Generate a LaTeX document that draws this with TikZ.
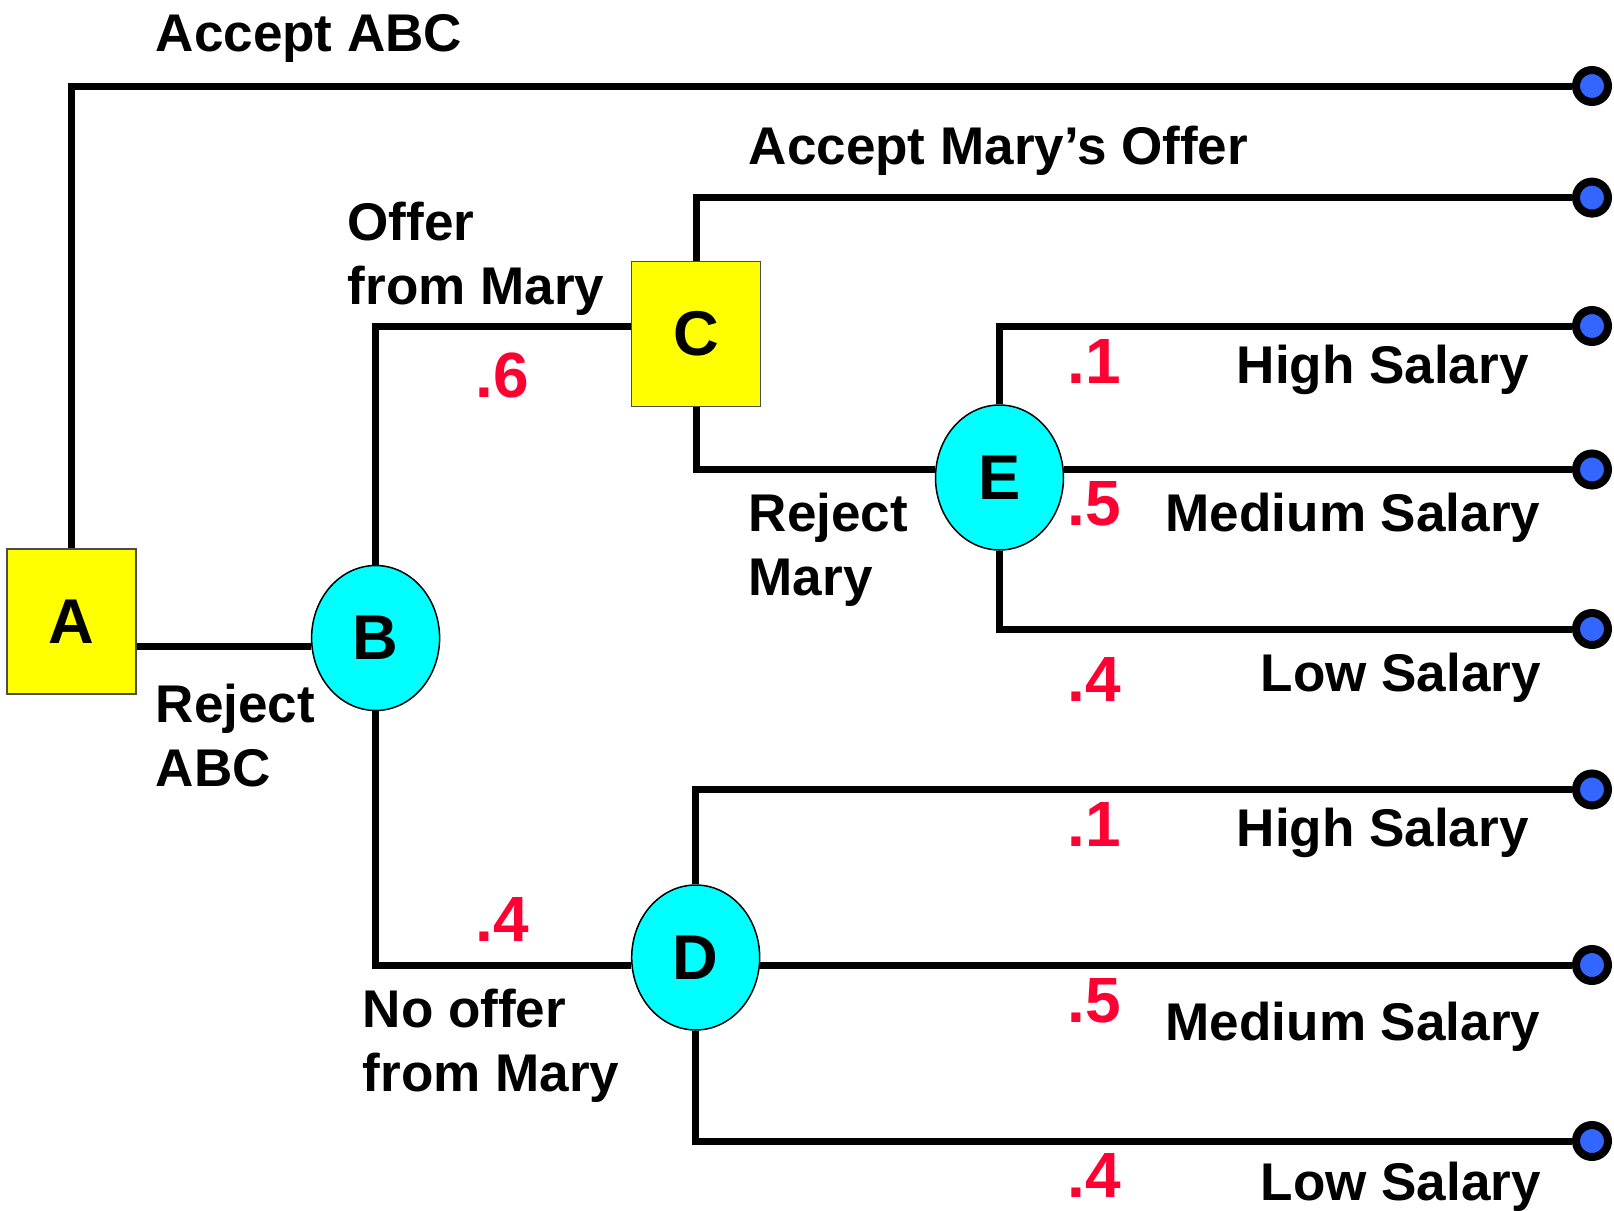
\documentclass[tikz,border=0pt]{standalone}
\usepackage{fontspec}
\setmainfont{Liberation Sans}
\usetikzlibrary{shapes.geometric}

\definecolor{ProbRed}{RGB}{255,0,51}
\definecolor{EndBlue}{RGB}{51,102,255}
\definecolor{BoxYellow}{RGB}{255,255,0}
\definecolor{ChanceCyan}{RGB}{0,255,255}

\begin{document}
\begin{tikzpicture}[x=.1mm,y=-.1mm,
  decision/.style={rectangle,draw=black!70,line width=.15mm,fill=BoxYellow,minimum width=12.9mm,minimum height=14.5mm,inner sep=0,font=\fontsize{18}{20}\selectfont\bfseries},
  chance/.style={ellipse,draw,line width=.15mm,fill=ChanceCyan,minimum width=12.8mm,minimum height=14.5mm,inner sep=0,font=\fontsize{18}{20}\selectfont\bfseries},
  payoff/.style={circle,draw,line width=.8mm,fill=EndBlue,minimum size=3.2mm,inner sep=0},
  branch/.style={line width=.7mm},
  lbl/.style={anchor=base west,inner sep=0,align=left,font=\fontsize{15.1}{18.2}\selectfont\bfseries},
  prob/.style={anchor=base west,inner sep=0,text=ProbRed,font=\fontsize{18.2}{20}\selectfont\bfseries}]
\useasboundingbox (0,0) rectangle (1614,1211);

\node[decision] (A) at (71.5,621.5) {A};
\node[chance] (B) at (375.6,638) {B};
\node[decision] (C) at (696,334) {C};
\node[chance] (E) at (999.5,477.5) {E};
\node[chance] (D) at (695.7,957.5) {D};

\foreach \y [count=\i] in {86,197.6,326,469.5,629,789.5,965,1141}
  \node[payoff] (t\i) at (1592,\y) {};

\draw[branch] (A.north) |- (t1);
\draw[branch] (A.east |- 0,646) -- (B.west |- 0,646);
\draw[branch] (B.north) |- (C.west |- t3);
\draw[branch] (B.south) |- (D.west |- t7);
\draw[branch] (C.north) |- (t2);
\draw[branch] (C.south) |- (E.west |- t4);
\draw[branch] (E.north) |- (t3);
\draw[branch] (E.east |- t4) -- (t4);
\draw[branch] (E.south) |- (t5);
\draw[branch] (D.north) |- (t6);
\draw[branch] (D.east |- t7) -- (t7);
\draw[branch] (D.south) |- (t8);

% two-line labels sit on the baseline of their last line
\node[lbl] (acceptabc) at (155,51.5) {Accept ABC};
\node[lbl] (acceptmary) at (748,164.7) {Accept Mary’s Offer};
\node[lbl] (offer) at (347,304) {Offer\\from Mary};
\node[lbl] (rejectmary) at (748,595) {Reject\\Mary};
\node[lbl] (rejectabc) at (155,786.7) {Reject\\ABC};
\node[lbl] (nooffer) at (362,1091) {No offer\\from Mary};
\node[prob] (p6) at (475,397.7) {.6};
\node[prob] (p4) at (475,941) {.4};

\node[prob] (pE1) at (1067,383.3) {.1};
\node[lbl] (highE) at (1236,383.3) {High Salary};
\node[prob] (pE5) at (1067,525) {.5};
\node[lbl] (mediumE) at (1165,531.7) {Medium Salary};
\node[prob] (pE4) at (1067,701.7) {.4};
\node[lbl] (lowE) at (1260,691.7) {Low Salary};

\node[prob] (pD1) at (1067,846) {.1};
\node[lbl] (highD) at (1236,846) {High Salary};
\node[prob] (pD5) at (1067,1022.3) {.5};
\node[lbl] (mediumD) at (1165,1040.7) {Medium Salary};
\node[prob] (pD4) at (1067,1197.7) {.4};
\node[lbl] (lowD) at (1260,1200) {Low Salary};

\end{tikzpicture}
\end{document}
